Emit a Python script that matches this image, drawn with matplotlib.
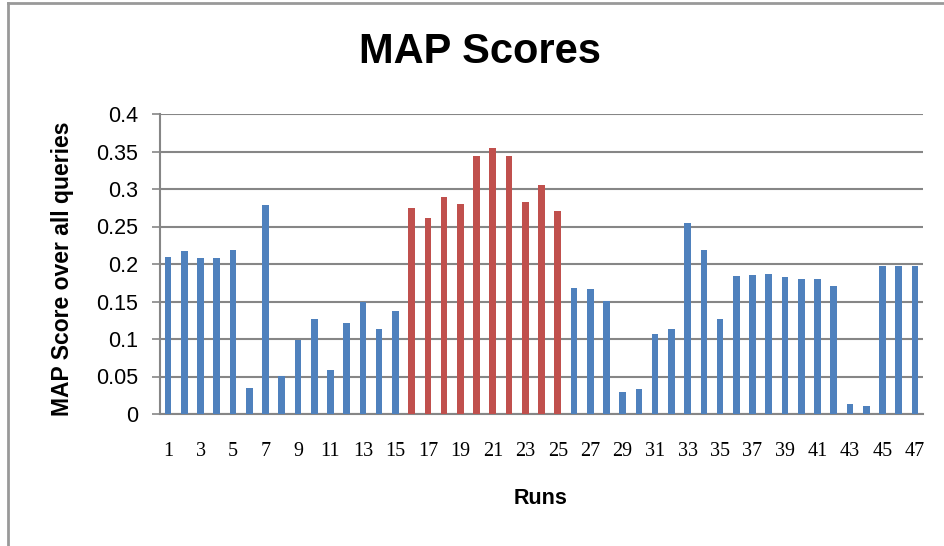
import matplotlib.pyplot as plt
from matplotlib.lines import Line2D

runs = list(range(1, 48))
scores = [0.210, 0.218, 0.208, 0.208, 0.219, 0.035, 0.279, 0.051, 0.099, 0.127,
          0.059, 0.121, 0.150, 0.114, 0.138, 0.275, 0.262, 0.290, 0.280, 0.344,
          0.355, 0.344, 0.283, 0.305, 0.271, 0.168, 0.167, 0.151, 0.030, 0.034,
          0.107, 0.114, 0.255, 0.219, 0.127, 0.184, 0.185, 0.187, 0.183, 0.180,
          0.180, 0.171, 0.013, 0.011, 0.197, 0.197, 0.198]
highlight_runs = list(range(16, 26))
yticks = [0, 0.05, 0.1, 0.15, 0.2, 0.25, 0.3, 0.35, 0.4]
ytick_labels = ['0', '0.05', '0.1', '0.15', '0.2', '0.25', '0.3', '0.35', '0.4']

blue = '#4F81BD'
red = '#C0504D'
grid = '#868686'

colors = [red if r in highlight_runs else blue for r in runs]

fig = plt.figure(figsize=(9.44, 5.46), dpi=100)
ax = fig.add_axes([160 / 944, 1 - 414 / 546, 763 / 944, 300 / 546])

ax.bar(runs, scores, width=0.41, color=colors, zorder=3)
ax.set_xlim(0.5, 47.5)
ax.set_ylim(0, 0.4)

ax.set_yticks(yticks)
ax.set_yticklabels(ytick_labels, fontsize=15.5, family='Liberation Sans')
ax.set_xticks(runs[::2])
ax.set_xticklabels([str(r) for r in runs[::2]], fontsize=14.5, family='Liberation Serif')
ax.tick_params(axis='y', length=5.8, color=grid, width=1.2, pad=10)
ax.tick_params(axis='x', length=0, pad=20)

ax.grid(axis='y', color=grid, linewidth=1.5, zorder=0)
for s in ['top', 'right']:
    ax.spines[s].set_visible(False)
ax.spines['left'].set_color(grid)
ax.spines['bottom'].set_color(grid)
ax.spines['left'].set_linewidth(1.5)
ax.spines['bottom'].set_linewidth(1.5)

fig.text(480 / 944, 1 - 52 / 546, 'MAP Scores', ha='center', va='center',
         fontsize=30, fontweight='bold', family='Liberation Sans')
fig.text(63 / 944, 1 - 269 / 546, 'MAP Score over all queries', ha='center', va='center',
         rotation=90, fontsize=16.5, fontweight='bold', family='Liberation Sans')
fig.text(541 / 944, 1 - 498 / 546, 'Runs', ha='center', va='center',
         fontsize=15.5, fontweight='bold', family='Liberation Sans')

# outer chart frame (only top and left edges visible)
fig.add_artist(Line2D([8 / 944, 8 / 944], [0, 1 - 2.5 / 546], color='#999999', lw=2,
                      transform=fig.transFigure))
fig.add_artist(Line2D([8 / 944, 1], [1 - 2.5 / 546, 1 - 2.5 / 546], color='#999999', lw=2,
                      transform=fig.transFigure))

fig.savefig('out.png', dpi=100)
